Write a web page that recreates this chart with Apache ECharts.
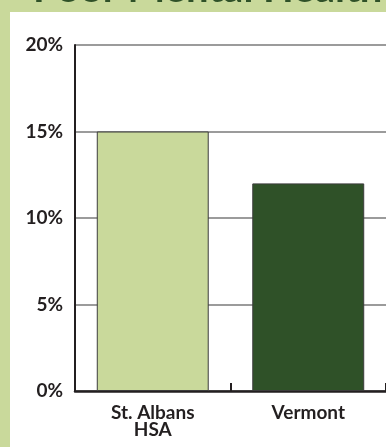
<!DOCTYPE html>
<html>
<head>
<meta charset="utf-8">
<script src="https://cdn.jsdelivr.net/npm/echarts@6/dist/echarts.min.js"></script>
<style>
  html, body { margin: 0; padding: 0; background: #c9d99b; }
  #chart { width: 386px; height: 447px; }
</style>
</head>
<body>
<div id="chart"></div>
<script>
// Share of adults reporting poor mental health
const categories = ['St. Albans\nHSA', 'Vermont'];
const values = [15, 12];
const barColors = ['#c9d99b', '#2f5128'];
const yTicks = { min: 0, max: 20, interval: 5 };

const chart = echarts.init(document.getElementById('chart'), null, { renderer: 'canvas' });

const ink = '#231f20';
const fontFamily = 'Lato, "Open Sans", sans-serif';

chart.setOption({
  backgroundColor: '#c9d99b',
  animation: false,
  graphic: [
    { type: 'rect', z: -10, shape: { x: 10, y: 12, width: 380, height: 440 }, style: { fill: '#ffffff' } },
    { type: 'text', z: -20, left: 33, top: -31,
      style: { text: 'Poor Mental Health', fill: '#2f5128', font: 'bold 40px Lato, sans-serif' } }
  ],
  grid: { left: 75, right: -4, top: 45, bottom: 56, containLabel: false },
  xAxis: {
    type: 'category',
    data: categories,
    axisLine: { lineStyle: { color: ink, width: 2.5 } },
    axisTick: { show: true, inside: true, length: 8, lineStyle: { color: ink, width: 2 } },
    axisLabel: {
      interval: 0, margin: 13, lineHeight: 17,
      fontFamily: fontFamily, fontWeight: 'bold', fontSize: 19, color: ink
    },
    splitLine: { show: false }
  },
  yAxis: {
    type: 'value',
    min: yTicks.min, max: yTicks.max, interval: yTicks.interval,
    axisLine: { show: true, lineStyle: { color: ink, width: 2 } },
    axisTick: { show: false },
    axisLabel: {
      margin: 12, formatter: '{value}%',
      fontFamily: fontFamily, fontWeight: 'bold', fontSize: 19, color: ink
    },
    splitLine: { lineStyle: { color: '#7a7a7a', width: 1.5 } }
  },
  series: [{
    type: 'bar',
    barCategoryGap: '28%',
    data: values.map((v, i) => ({
      value: v,
      itemStyle: { color: barColors[i], borderColor: '#3c3c3c', borderWidth: 1 }
    }))
  }]
});
</script>
</body>
</html>
